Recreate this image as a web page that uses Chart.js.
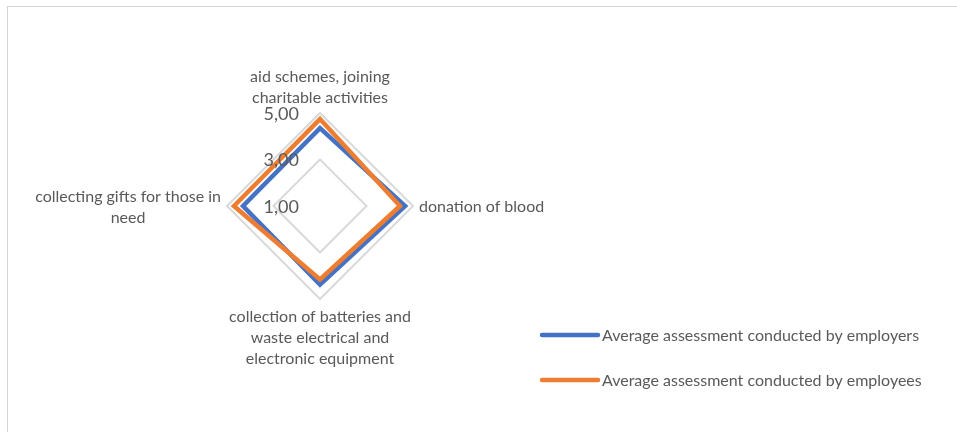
<!DOCTYPE html>
<html>
<head>
<meta charset="utf-8">
<script src="https://cdn.jsdelivr.net/npm/chart.js@4.4.1/dist/chart.umd.min.js"></script>
<style>
  html, body { margin: 0; padding: 0; background: #ffffff; }
  #wrap { position: relative; width: 957px; height: 432px; overflow: hidden; }
  #frame { position: absolute; left: 7px; top: 6px; width: 1200px; height: 1200px;
           border-top: 1px solid #d4d4d4; border-left: 1px solid #d4d4d4; box-sizing: border-box; }
  canvas { position: absolute; left: 0; top: 0; }
</style>
</head>
<body>
<div id="wrap">
  <div id="frame"></div>
  <canvas id="c" width="957" height="432"></canvas>
</div>
<script>
// ---- data ----
const categories = [
  ["aid schemes, joining", "charitable activities"],
  ["donation of blood"],
  ["collection of batteries and", "waste electrical and", "electronic equipment"],
  ["collecting gifts for those in", "need"]
];
const seriesNames = [
  "Average assessment conducted by employers",
  "Average assessment conducted by employees"
];
const employersValues = [4.35, 4.66, 4.38, 4.31];
const employeesValues = [4.74, 4.44, 4.16, 4.70];
const tickValues = [1, 3, 5];
const tickLabels = ["1,00", "3,00", "5,00"];

// ---- layout constants ----
const CENTER_X = 320, CENTER_Y = 206, RADIUS = 93;
const TEXT_COLOR = "#595959";
const FONT = "Lato, 'Liberation Sans', sans-serif";
const LABEL_SIZE = 16, LABEL_LINE = 21, LABEL_PAD = 6;

const geometryPlugin = {
  id: "geometry",
  afterLayout(chart) {
    const s = chart.scales.r;
    s.xCenter = CENTER_X;
    s.yCenter = CENTER_Y;
    s.drawingArea = RADIUS;
    s.fit();
  }
};

const overlayPlugin = {
  id: "overlay",
  afterDraw(chart) {
    const ctx = chart.ctx;
    const s = chart.scales.r;
    ctx.save();
    // category labels, lines centred within their block
    ctx.font = LABEL_SIZE + "px " + FONT;
    ctx.fillStyle = TEXT_COLOR;
    ctx.textAlign = "center";
    ctx.textBaseline = "middle";
    chart.data.labels.forEach((lines, i) => {
      const arr = Array.isArray(lines) ? lines : [lines];
      const p = s.getPointPosition(i, s.drawingArea + LABEL_PAD);
      const w = Math.max(...arr.map(t => ctx.measureText(t).width));
      const h = arr.length * LABEL_LINE;
      const cos = Math.cos(p.angle), sin = Math.sin(p.angle);
      let cx = p.x, top = p.y - h / 2;
      if (cos > 0.5) cx = p.x + w / 2;
      else if (cos < -0.5) cx = p.x - w / 2;
      if (sin < -0.5) top = p.y - h;
      else if (sin > 0.5) top = p.y;
      arr.forEach((t, k) => ctx.fillText(t, cx, top + LABEL_LINE * k + LABEL_LINE / 2 + 1));
    });
    // tick labels, left of the vertical axis
    ctx.font = "18px " + FONT;
    ctx.textAlign = "right";
    tickValues.forEach((v, i) => {
      const d = s.getDistanceFromCenterForValue(v);
      ctx.fillText(tickLabels[i], s.xCenter - 21, s.yCenter - d + 1);
    });
    // legend
    const lx0 = 542, lx1 = 598, ly = [335, 380];
    chart.data.datasets.forEach((ds, i) => {
      ctx.strokeStyle = ds.borderColor;
      ctx.lineWidth = 4.5;
      ctx.lineCap = "round";
      ctx.beginPath();
      ctx.moveTo(lx0, ly[i]);
      ctx.lineTo(lx1, ly[i]);
      ctx.stroke();
      ctx.font = LABEL_SIZE + "px " + FONT;
      ctx.fillStyle = TEXT_COLOR;
      ctx.textAlign = "left";
      ctx.fillText(ds.label, lx1 + 4, ly[i] + 1);
    });
    ctx.restore();
  }
};

new Chart(document.getElementById("c"), {
  type: "radar",
  data: {
    labels: categories,
    datasets: [
      {
        label: seriesNames[0],
        data: employersValues,
        borderColor: "#4472C4",
        backgroundColor: "rgba(0,0,0,0)",
        borderWidth: 4.5,
        borderJoinStyle: "miter",
        pointRadius: 0,
        pointHoverRadius: 0,
        fill: false,
        order: 1
      },
      {
        label: seriesNames[1],
        data: employeesValues,
        borderColor: "#ED7D31",
        backgroundColor: "rgba(0,0,0,0)",
        borderWidth: 4.5,
        borderJoinStyle: "miter",
        pointRadius: 0,
        pointHoverRadius: 0,
        fill: false,
        order: 0
      }
    ]
  },
  options: {
    responsive: false,
    animation: false,
    layout: { padding: 0 },
    plugins: {
      legend: { display: false },
      tooltip: { enabled: false },
      title: { display: false }
    },
    scales: {
      r: {
        min: 1,
        max: 5,
        beginAtZero: false,
        angleLines: { display: false },
        grid: { circular: false, color: "#d9d9d9", lineWidth: 2 },
        ticks: { display: false, stepSize: 2 },
        pointLabels: { display: false }
      }
    }
  },
  plugins: [geometryPlugin, overlayPlugin]
});
</script>
</body>
</html>
